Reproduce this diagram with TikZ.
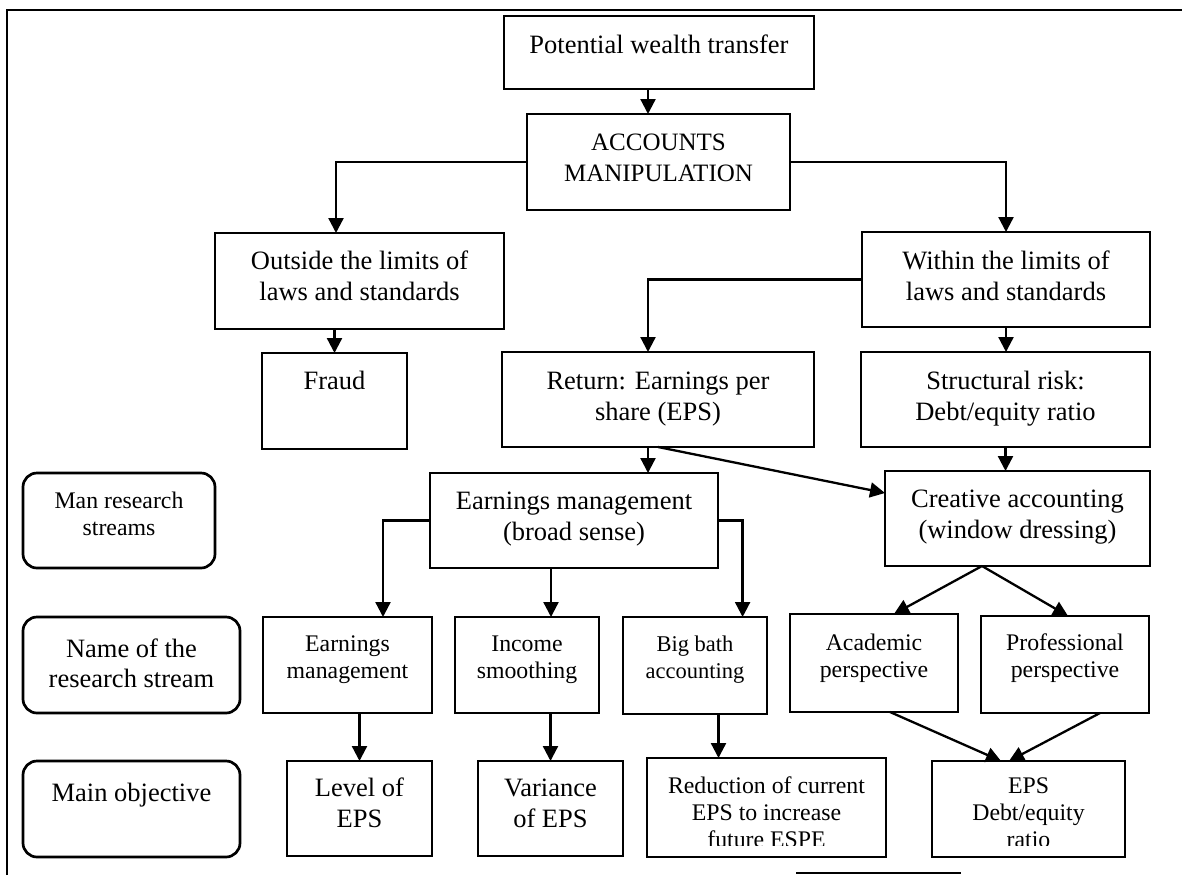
\documentclass[tikz,border=0pt]{standalone}
\usepackage{fontspec}
\setmainfont{Liberation Serif}
\usetikzlibrary{arrows.meta,calc}
% centred lines whose baseline is the baseline of the first line
\newcommand\stack[1]{\begin{tabular}[t]{@{}c@{}}#1\end{tabular}}
\begin{document}
\begin{tikzpicture}[x=1pt,y=-1pt,
  box/.style={draw,line width=2.7pt,inner sep=0pt,outer sep=0pt,anchor=north west},
  rbox/.style={box,rounded corners=14pt},
  arr/.style={line width=2.3pt,-{Triangle[width=15pt,length=15pt]}},
  big/.style={inner sep=0pt,anchor=base,font=\fontsize{26.5}{31}\selectfont},
  caps/.style={inner sep=0pt,anchor=base,font=\fontsize{25}{31}\selectfont},
  small/.style={inner sep=0pt,anchor=base,font=\fontsize{23.8}{27}\selectfont},
  tiny/.style={inner sep=0pt,anchor=base,font=\fontsize{22.5}{27}\selectfont},
]
\useasboundingbox (0,0) rectangle (1182,875);

% page frame
\draw[line width=2pt] (7,875) -- (7,10) -- (1182,10);
\draw[line width=2.6pt] (796,873) -- (961,873);

% boxes
\node[box,minimum width=310pt,minimum height=73pt] (pot) at (504,16) {};
\node[box,minimum width=263pt,minimum height=96pt] (acc) at (527,114) {};
\node[box,minimum width=289pt,minimum height=96pt] (out) at (215,233) {};
\node[box,minimum width=288pt,minimum height=95pt] (within) at (862,232) {};
\node[box,minimum width=145pt,minimum height=96pt] (fraud) at (262,353) {};
\node[box,minimum width=312pt,minimum height=95pt] (ret) at (502,352) {};
\node[box,minimum width=289pt,minimum height=95pt] (struct) at (861,352) {};
\node[box,minimum width=288pt,minimum height=95pt] (broad) at (430,473) {};
\node[box,minimum width=265pt,minimum height=95pt] (creat) at (885,471) {};
\node[box,minimum width=169pt,minimum height=96pt] (emg) at (263,617) {};
\node[box,minimum width=144pt,minimum height=96pt] (income) at (455,617) {};
\node[box,minimum width=144pt,minimum height=97pt] (bigbath) at (623,617) {};
\node[box,minimum width=168pt,minimum height=98pt] (acad) at (790,614) {};
\node[box,minimum width=168pt,minimum height=97pt] (prof) at (981,616) {};
\node[box,minimum width=145pt,minimum height=95pt] (level) at (287,761) {};
\node[box,minimum width=145pt,minimum height=95pt] (var) at (478,761) {};
\node[box,minimum width=239pt,minimum height=99pt] (red) at (647,758) {};
\node[box,minimum width=193pt,minimum height=96pt] (eps) at (932,761) {};
\node[rbox,minimum width=192pt,minimum height=95pt] (man) at (23,473) {};
\node[rbox,minimum width=217pt,minimum height=96pt] (name) at (23,617) {};
\node[rbox,minimum width=217pt,minimum height=96pt] (mainobj) at (23,761) {};

% texts
\node[big] (potT) at ($(pot.north)+(0,38)$) {\stack{Potential wealth transfer}};
\node[caps] (accT) at ($(acc.north)+(0,36)$) {\stack{ACCOUNTS\\MANIPULATION}};
\node[big] (outT) at ($(out.north)+(0,36)$) {\stack{Outside the limits of\\laws and standards}};
\node[big] (withinT) at ($(within.north)+(0,37)$) {\stack{Within the limits of\\laws and standards}};
\node[big] (fraudT) at ($(fraud.north)+(0,36)$) {\stack{Fraud}};
\node[big] (retT) at ($(ret.north)+(0,37)$) {\stack{Return: Earnings per\\share (EPS)}};
\node[big] (structT) at ($(struct.north)+(0,37)$) {\stack{Structural risk:\\Debt/equity ratio}};
\node[big] (broadT) at ($(broad.north)+(0,36)$) {\stack{Earnings management\\(broad sense)}};
\node[big] (creatT) at ($(creat.north)+(0,36)$) {\stack{Creative accounting\\(window dressing)}};
\node[small] (emgT) at ($(emg.north)+(0,34)$) {\stack{Earnings\\management}};
\node[small] (incomeT) at ($(income.north)+(0,34)$) {\stack{Income\\smoothing}};
\node[tiny] (bigbathT) at ($(bigbath.north)+(0,34)$) {\stack{Big bath\\accounting}};
\node[small] (acadT) at ($(acad.north)+(0,36)$) {\stack{Academic\\perspective}};
\node[small] (profT) at ($(prof.north)+(0,34)$) {\stack{Professional\\perspective}};
\node[big] (levelT) at ($(level.north)+(0,35)$) {\stack{Level of\\EPS}};
\node[big] (varT) at ($(var.north)+(0,35)$) {\stack{Variance\\of EPS}};
\begin{scope}
  \clip (640,750) rectangle (1130,845);
  \node[small] (redT) at ($(red.north)+(0,35)$) {\stack{Reduction of current\\EPS to increase\\future ESPE}};
  \node[small] (epsT) at ($(eps.north)+(0,32)$) {\stack{EPS\\Debt/equity\\ratio}};
\end{scope}
\node[small] (manT) at ($(man.north)+(0,35)$) {\stack{Man research\\streams}};
\node[big,font=\fontsize{26.5}{30}\selectfont] (nameT) at ($(name.north)+(0,40)$) {\stack{Name of the\\research stream}};
\node[big] (mainobjT) at ($(mainobj.north)+(0,40)$) {\stack{Main objective}};

% connectors
\draw[arr] ([xshift=-11pt]pot.south) -- ([xshift=-11pt]pot.south |- acc.north);
\draw[arr] (acc.west) -| ([xshift=-23.5pt]out.north);
\draw[arr] (acc.east) -| (within.north);
\draw[arr] (fraud.north |- out.south) -- (fraud.north);
\draw[arr] (within.west) -| ([xshift=-10pt]ret.north);
\draw[arr] (within.south) -- (within.south |- struct.north);
\draw[arr] ([xshift=-10pt]ret.south) -- ([xshift=-10pt]ret.south |- broad.north);
\draw[arr] (struct.south) -- (struct.south |- creat.north);
\draw[arr] (ret.south) -- ($(creat.north west)+(0,22)$);
\draw[arr] (broad.west) -| ([xshift=35.5pt]emg.north);
\draw[arr] ([xshift=-23pt]broad.south) -- ([xshift=-23pt]broad.south |- income.north);
\draw[arr] (broad.east) -| ([xshift=47.6pt]bigbath.north);
\draw[arr] ([xshift=-35.5pt]creat.south) -- ([xshift=20pt]acad.north);
\draw[arr] ([xshift=-35.5pt]creat.south) -- ([xshift=3pt]prof.north);
\draw[arr] (level.north |- emg.south) -- (level.north);
\draw[arr] (var.north |- income.south) -- (var.north);
\draw[arr] ([xshift=-48pt]red.north |- bigbath.south) -- ([xshift=-48pt]red.north);
\draw[arr] ([xshift=16pt]acad.south) -- ([xshift=-27.5pt]eps.north);
\draw[arr] ([xshift=35pt]prof.south) -- ([xshift=-19.5pt]eps.north);
\end{tikzpicture}
\end{document}
